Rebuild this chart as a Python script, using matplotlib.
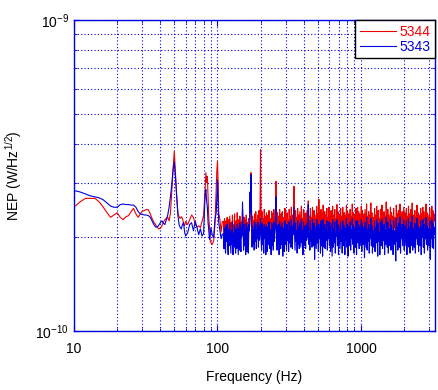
import numpy as np
import matplotlib
matplotlib.use("Agg")
import matplotlib.pyplot as plt
from matplotlib.ticker import LogLocator, NullFormatter, FixedLocator, FixedFormatter

plt.rcParams['font.family'] = ['Liberation Sans', 'DejaVu Sans']
plt.rcParams['mathtext.fontset'] = 'custom'
plt.rcParams['mathtext.rm'] = 'Liberation Sans'
plt.rcParams['mathtext.it'] = 'Liberation Sans:italic'
plt.rcParams['mathtext.default'] = 'regular'

# ---------------- data (NEP in units of 1e-11 W/Hz^1/2) ----------------
freq_low = [10, 11, 12, 13, 14, 15, 16, 17, 18, 19, 20, 21, 22, 23, 24, 25, 26, 27, 28, 29,
            30, 31, 32, 33, 34, 35, 36, 37, 38, 39, 40, 41, 42, 43, 44, 45, 46, 47, 48, 49,
            50, 51, 52, 53, 54, 55, 56, 57, 58, 59, 60, 62, 64, 66, 68, 70, 72, 74, 76, 78,
            80, 82, 83, 84, 85, 86, 87, 88, 89, 90, 92, 94, 96, 98, 99, 100, 101, 102, 104, 106, 108]

red_low = [25.0, 26.0, 26.7, 26.7, 26.7, 26.0, 25.0, 24.0, 23.2, 23.6, 24.0, 23.2, 22.8, 23.3, 23.5, 24.2, 24.8, 23.8, 23.2, 23.8,
           24.3, 24.4, 24.6, 24.5, 23.8, 23.0, 22.4, 22.0, 21.6, 21.3, 21.4, 21.8, 22.4, 22.8, 23.0, 23.2, 22.6, 24.0, 28.0, 33.0,
           37.8, 32.0, 27.0, 24.0, 23.3, 23.0, 23.3, 23.0, 22.2, 21.8, 22.5, 22.0, 22.8, 23.6, 23.2, 22.0, 21.6, 21.8, 21.5, 22.5,
           23.5, 28.5, 32.3, 30.0, 31.4, 27.0, 23.0, 21.5, 19.5, 19.2, 19.0, 19.5, 22.0, 29.0, 33.0, 35.1, 30.0, 24.0, 22.8, 20.8, 22.5]

blue_low = [28.3, 28.0, 27.6, 27.2, 27.0, 26.8, 26.4, 25.8, 25.2, 25.0, 25.0, 25.5, 25.6, 25.5, 25.5, 25.4, 25.4, 25.0, 24.2, 23.8,
            23.7, 23.6, 23.6, 23.5, 23.2, 22.6, 22.0, 21.6, 21.6, 21.9, 22.3, 22.6, 22.2, 22.0, 22.8, 23.6, 25.0, 27.0, 29.5, 33.0,
            35.0, 31.0, 27.0, 23.5, 22.0, 21.5, 21.3, 22.0, 22.3, 20.8, 20.2, 20.7, 22.0, 22.3, 21.0, 22.5, 21.5, 20.4, 21.3, 20.2,
            20.6, 27.5, 28.5, 26.2, 25.0, 22.3, 21.0, 19.7, 20.5, 21.5, 20.3, 20.0, 22.8, 24.0, 27.0, 30.7, 26.0, 22.3, 21.0, 19.8, 20.5]

# high-frequency part: 400 log-spaced bins from 110 Hz to 3280 Hz
freq_high_start = 110
freq_high_stop = 3280
red_high = [
    22.5, 20.4, 23.0, 21.2, 19.8, 22.6, 20.6, 23.2, 21.0, 19.6, 22.8, 20.2, 23.4, 21.6, 19.8, 22.4, 20.8, 23.6, 19.6, 22.0,
    20.4, 23.8, 21.0, 19.8, 22.6, 20.2, 24.0, 21.4, 20.0, 22.8, 19.6, 23.4, 21.2, 20.2, 22.4, 21.0, 24.6, 22.0, 19.8, 23.2,
    20.6, 22.8, 19.6, 23.6, 21.0, 20.0, 22.4, 19.8, 23.0, 21.4, 22.0, 23.8, 32.3, 24.5, 20.6, 23.4, 21.0, 22.6, 20.2, 23.8,
    21.2, 24.2, 20.4, 22.8, 21.6, 23.6, 20.6, 24.4, 21.8, 24.0, 38.3, 23.0, 20.8, 24.2, 21.4, 23.0, 20.2, 24.6, 21.6, 23.4,
    20.0, 24.0, 22.0, 20.4, 23.6, 21.2, 24.4, 20.6, 23.0, 22.0, 19.8, 24.2, 21.0, 23.8, 20.4, 24.6, 21.8, 22.6, 23.4, 30.3,
    22.8, 20.6, 24.0, 21.2, 23.4, 20.2, 24.6, 22.0, 20.8, 23.8, 21.4, 24.2, 20.0, 23.2, 22.4, 20.6, 24.8, 21.0, 23.6, 20.4,
    24.0, 21.8, 22.8, 20.2, 24.6, 21.4, 23.4, 20.6, 25.0, 22.2, 20.8, 23.6, 22.0, 29.2, 23.0, 20.4, 24.4, 21.6, 23.2, 20.0,
    24.8, 21.2, 23.6, 20.6, 24.2, 22.4, 20.8, 25.2, 21.4, 23.0, 20.2, 24.6, 22.0, 21.0, 24.0, 20.6, 23.8, 21.8, 24.4, 22.2,
    26.2, 21.0, 23.4, 20.4, 24.8, 21.6, 23.2, 20.8, 25.0, 22.0, 21.2, 24.4, 20.4, 23.6, 22.2, 20.8, 25.2, 21.4, 23.8, 20.6,
    26.5, 22.0, 23.4, 20.6, 24.6, 21.2, 23.8, 20.2, 25.4, 22.4, 21.0, 24.2, 20.8, 23.6, 21.8, 24.8, 20.4, 23.2, 22.0, 25.0,
    21.0, 23.8, 20.6, 24.4, 22.2, 21.4, 25.2, 20.8, 23.6, 21.6, 24.6, 20.4, 23.0, 22.6, 25.5, 21.0, 24.2, 20.6, 23.8, 22.0,
    20.8, 24.8, 21.6, 23.4, 20.2, 25.0, 22.4, 21.2, 24.0, 20.6, 23.6, 22.0, 25.4, 21.0, 24.2, 20.4, 23.8, 22.6, 21.2, 24.6,
    20.8, 23.4, 22.0, 25.6, 21.4, 24.0, 20.6, 23.6, 22.2, 21.0, 24.8, 20.4, 23.2, 25.0, 21.6, 24.2, 20.8, 23.8, 22.4, 21.2,
    25.2, 20.6, 24.4, 22.0, 21.4, 23.8, 20.2, 24.6, 22.6, 21.0, 25.6, 20.8, 23.4, 21.8, 24.2, 20.4, 23.6, 22.2, 25.8, 21.2,
    24.0, 20.6, 23.2, 22.4, 21.0, 24.8, 20.8, 23.6, 21.6, 25.2, 22.0, 20.4, 24.4, 21.8, 23.0, 20.6, 24.6, 22.2, 21.2, 25.4,
    20.8, 23.8, 22.0, 24.2, 20.4, 23.4, 21.6, 26.0, 22.2, 21.0, 24.6, 20.6, 23.6, 22.4, 21.2, 25.0, 20.8, 24.0, 22.0, 23.4,
    20.6, 24.8, 21.4, 23.2, 22.6, 20.4, 25.4, 21.8, 23.8, 20.8, 24.4, 22.2, 21.0, 25.6, 20.6, 23.6, 22.0, 24.2, 21.2, 23.0,
    25.0, 20.8, 24.0, 22.4, 21.4, 24.8, 20.4, 23.4, 22.0, 25.2, 21.0, 23.8, 20.6, 24.6, 22.2, 21.2, 25.8, 20.8, 23.6, 22.4,
    21.0, 24.4, 20.6, 23.2, 22.0, 25.4, 21.4, 24.0, 20.8, 23.6, 22.6, 21.2, 24.8, 20.4, 23.8, 22.2, 25.0, 21.0, 24.2, 20.6,
    23.4, 22.0, 25.6, 21.4, 24.0, 20.8, 23.6, 22.4, 21.2, 24.8, 20.6, 23.2, 22.0, 25.2, 21.0, 24.4, 20.8, 23.8, 22.6, 23.0]

blue_high = [
    20.5, 18.4, 21.4, 19.2, 17.8, 21.8, 19.4, 22.0, 18.6, 17.6, 21.2, 18.8, 22.2, 20.0, 17.8, 21.0, 19.0, 22.4, 17.6, 20.6,
    18.6, 21.8, 19.4, 17.8, 21.2, 18.4, 22.0, 19.8, 17.6, 21.4, 18.2, 22.2, 19.6, 18.0, 21.6, 20.2, 26.0, 21.4, 18.2, 22.0,
    18.8, 21.0, 17.6, 22.2, 19.2, 18.0, 21.6, 17.8, 22.0, 21.0, 28.0, 24.0, 31.8, 22.8, 18.6, 21.8, 19.0, 21.2, 18.2, 22.4,
    19.4, 22.0, 18.4, 21.2, 19.8, 22.4, 18.6, 21.8, 19.6, 21.0, 23.0, 19.8, 18.2, 22.2, 19.0, 21.4, 17.8, 22.0, 19.8, 21.6,
    17.6, 22.0, 20.0, 18.0, 21.6, 19.0, 22.4, 18.4, 21.2, 19.6, 17.6, 22.2, 18.8, 21.8, 18.2, 22.4, 19.4, 20.6, 21.6, 27.0,
    21.0, 18.2, 21.8, 19.2, 22.0, 17.6, 22.4, 19.8, 18.4, 21.6, 19.0, 22.2, 17.4, 21.4, 20.2, 18.0, 22.6, 19.0, 21.8, 18.2,
    22.0, 19.6, 21.0, 18.0, 22.4, 19.2, 21.6, 18.6, 22.8, 20.0, 18.4, 21.8, 20.4, 25.0, 21.2, 18.2, 22.2, 19.4, 21.0, 17.8,
    22.6, 19.0, 21.6, 18.4, 22.2, 20.2, 18.6, 22.8, 19.2, 21.0, 17.6, 22.4, 19.8, 18.8, 21.8, 18.4, 21.6, 19.6, 22.2, 20.0,
    25.5, 19.0, 21.4, 18.2, 22.6, 19.4, 21.0, 18.6, 22.8, 19.8, 18.8, 22.2, 17.0, 21.6, 20.0, 18.4, 22.8, 19.2, 21.6, 18.0,
    22.0, 19.8, 21.2, 17.8, 22.6, 18.8, 21.6, 17.4, 22.8, 20.0, 18.6, 22.0, 18.4, 21.4, 19.6, 22.6, 18.2, 21.0, 19.8, 22.4,
    18.8, 21.6, 18.0, 22.2, 19.8, 17.4, 22.8, 18.6, 21.4, 19.2, 22.4, 17.8, 20.8, 20.2, 22.8, 18.8, 22.0, 17.6, 21.6, 19.8,
    18.4, 22.4, 19.4, 21.2, 17.8, 22.6, 20.0, 18.8, 21.8, 17.6, 21.4, 19.6, 23.0, 18.6, 22.0, 17.4, 21.6, 20.2, 18.8, 22.4,
    18.2, 21.2, 19.8, 23.0, 19.0, 21.8, 17.8, 21.4, 19.6, 18.6, 22.6, 17.6, 21.0, 22.6, 19.2, 22.0, 18.4, 21.6, 20.0, 18.8,
    22.8, 18.0, 22.2, 19.6, 19.0, 21.6, 17.2, 22.4, 20.2, 18.6, 23.2, 18.2, 21.2, 19.4, 22.0, 17.8, 21.4, 19.8, 23.0, 18.8,
    21.8, 17.8, 21.0, 20.2, 18.6, 22.6, 18.0, 21.4, 19.2, 22.8, 19.6, 17.4, 22.2, 19.4, 20.8, 17.6, 22.4, 19.8, 18.8, 22.8,
    18.4, 21.6, 19.6, 22.0, 17.6, 21.2, 19.0, 23.2, 19.8, 18.6, 22.4, 17.8, 21.4, 20.2, 18.8, 22.8, 18.2, 21.8, 19.6, 21.0,
    17.6, 22.6, 19.0, 21.0, 20.4, 16.8, 23.0, 19.4, 21.6, 18.2, 22.2, 20.0, 18.6, 23.2, 17.8, 21.4, 19.8, 22.0, 18.8, 20.8,
    22.8, 18.2, 21.8, 20.2, 18.8, 22.6, 17.6, 21.2, 19.8, 23.0, 18.6, 21.6, 17.8, 22.4, 20.0, 18.8, 23.4, 18.2, 21.4, 20.2,
    18.6, 22.2, 17.8, 21.0, 19.8, 23.0, 19.0, 21.8, 18.0, 21.4, 20.4, 18.8, 22.6, 17.6, 21.6, 20.0, 22.8, 18.6, 22.0, 17.8,
    21.2, 19.8, 23.2, 19.0, 21.8, 18.2, 21.4, 20.2, 18.8, 22.6, 17.0, 21.0, 19.8, 22.8, 18.6, 22.2, 18.4, 21.6, 20.4, 20.6]

labels = ["5344", "5343"]
scale = 1e-11

freq_high = np.geomspace(freq_high_start, freq_high_stop, len(red_high))
freq = np.concatenate([np.array(freq_low, float), freq_high])
red = np.concatenate([red_low, red_high]) * scale
blue = np.concatenate([blue_low, blue_high]) * scale

# ---------------- plot ----------------
W, H = 439, 390
fig = plt.figure(figsize=(W / 100, H / 100), dpi=100)
ax = fig.add_axes([74 / W, 1 - 331 / H, (435 - 74) / W, (331 - 20) / H])

axc = '#0000e6'
ax.plot(freq, red, color='#ee0000', lw=0.8, label=labels[0])
ax.plot(freq, blue, color='#0000dd', lw=0.8, label=labels[1])

ax.set_xscale('log')
ax.set_yscale('log')
ax.set_xlim(10, 3280)
ax.set_ylim(1e-10, 1e-9)

ax.xaxis.set_major_locator(FixedLocator([10, 100, 1000]))
ax.xaxis.set_major_formatter(FixedFormatter(['10', '100', '1000']))
ax.xaxis.set_minor_locator(LogLocator(base=10, subs=np.arange(2, 10)))
ax.xaxis.set_minor_formatter(NullFormatter())
ax.yaxis.set_major_locator(FixedLocator([1e-10, 1e-9]))
ax.yaxis.set_major_formatter(FixedFormatter([r'$10^{-10}$', r'$10^{-9}$']))
ax.yaxis.set_minor_locator(LogLocator(base=10, subs=np.arange(2, 10)))
ax.yaxis.set_minor_formatter(NullFormatter())

gridkw = dict(color=axc, linestyle=(0, (1, 2)), linewidth=0.8)
ax.grid(True, which='both', axis='both', **gridkw)

for s in ax.spines.values():
    s.set_color(axc)
    s.set_linewidth(1.0)

ax.tick_params(which='both', direction='in', colors=axc, labelcolor='black',
               labelsize=10, top=True, right=True)
ax.tick_params(which='major', length=4)
ax.tick_params(which='minor', length=2)
ax.tick_params(axis='x', pad=8)

ax.set_xlabel('Frequency (Hz)', fontsize=10, labelpad=10)
ax.set_ylabel(r'NEP (W/Hz$^{1/2}$)', fontsize=10, labelpad=8)

leg = ax.legend(loc='upper right', borderaxespad=0, fancybox=False,
                frameon=True, fontsize=10, handlelength=2.6,
                borderpad=0.35, labelspacing=0.05, handletextpad=0.2,
                framealpha=1.0)
leg.get_frame().set_edgecolor('black')
leg.get_frame().set_linewidth(1.0)
for t, c in zip(leg.get_texts(), ['#ee0000', '#0000dd']):
    t.set_color(c)

fig.savefig('out.png', dpi=100, facecolor='white')
